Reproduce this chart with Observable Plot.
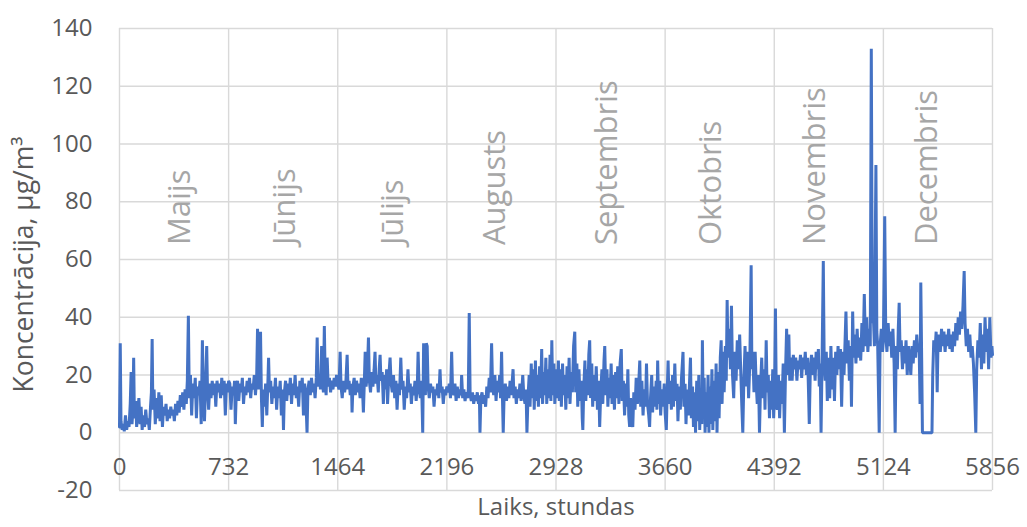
<!DOCTYPE html>
<html>
<head>
<meta charset="utf-8">
<script src="https://cdn.jsdelivr.net/npm/d3@7"></script>
<script src="https://cdn.jsdelivr.net/npm/@observablehq/plot@0.6"></script>
<style>
  html, body { margin: 0; padding: 0; background: #fff; }
</style>
</head>
<body>
<div id="chart"></div>
<script>
const xTicks = [0, 732, 1464, 2196, 2928, 3660, 4392, 5124, 5856];
const yTicks = [-20, 0, 20, 40, 60, 80, 100, 120, 140];
const monthNames = ["Maijs", "Jūnijs", "Jūlijs", "Augusts", "Septembris", "Oktobris", "Novembris", "Decembris"];
const monthHours = [408, 1112, 1835, 2518, 3268, 3971, 4668, 5418];
const yTitle = "Koncentrācija, µg/m³";
const xTitle = "Laiks, stundas";

// [hour, concentration]
const series = [
[0,2],[5,31],[10,4],[18,1],[25,3],[32,0.5],[40,6],[48,1],[56,4],[64,2],[72,10],[78,21],[84,3],[90,8],[95,26],[100,5],[108,11],[115,2],[122,7],[130,12],[138,3],[145,9],[152,1],[160,6],[168,2],[176,8],[184,3],[192,5],[200,1],[208,9],[214,14],[219,32.5],[224,8],[232,15],[240,3],[248,12],[256,5],[264,14],[272,4],[280,13],[288,2],[296,9],[304,6],[312,10],[320,4],[328,8],[336,5],[344,9],[352,6],[360,8],[368,4],[376,10],[384,6],[392,11],[400,7],[408,13],[416,9],[424,14],[432,8],[440,15],[448,10],[455,18],[462,40.5],[468,12],[476,20],[484,6],[492,17],[500,12],[508,19],[516,5],[524,16],[532,13],[540,18],[548,3],[556,32],[562,15],[570,4],[578,17],[585,30],[590,16],[598,8],[606,17],[614,12],[622,18],[630,13],[638,17],[646,9],[654,18],[662,14],[670,17],[678,12],[686,19],[694,13],[702,18],[710,6],[718,17],[726,14],[732,18],
[740,17],[748,8],[756,16],[764,13],[772,18],[777,3],[784,15],[792,18],[800,11],[808,17],[816,14],[824,19],[832,10],[840,16],[848,13],[856,18],[864,14],[872,19],[880,12],[888,17],[896,15],[904,20],[912,13],[920,19],[926,36],[932,15],[940,20],[946,35],[952,12],[958,2],[964,15],[972,9],[980,17],[988,6],[994,15],[1000,26],[1006,14],[1014,18],[1022,10],[1030,16],[1038,12],[1046,19],[1054,8],[1062,16],[1070,12],[1078,18],[1086,6],[1094,15],[1100,1],[1106,14],[1114,18],[1122,11],[1130,17],[1138,13],[1146,19],[1154,10],[1162,17],[1170,13],[1178,20],[1186,12],[1194,16],[1202,9],[1210,18],[1218,14],[1226,19],[1234,6],[1242,17],[1250,12],[1258,0],[1264,15],[1272,18],[1280,13],[1288,19],[1296,14],[1304,17],[1312,12],[1320,19],[1326,33],[1332,16],[1340,20],[1348,15],[1356,30],[1362,17],[1368,14],[1374,37],[1380,18],[1386,13],[1393,26],[1400,16],[1408,19],[1416,14],[1424,18],[1432,15],[1440,19],[1448,16],[1456,20],[1464,17],
[1472,15],[1480,28],[1486,16],[1494,12],[1502,18],[1510,14],[1518,17],[1527,27],[1533,15],[1540,18],[1548,13],[1556,17],[1560,7],[1566,16],[1574,19],[1582,13],[1590,18],[1598,14],[1606,17],[1614,12],[1622,19],[1630,15],[1636,7],[1642,17],[1648,28],[1654,16],[1662,20],[1670,33],[1676,18],[1684,14],[1692,21],[1700,16],[1708,22],[1714,28],[1720,17],[1728,20],[1736,14],[1742,22],[1748,27],[1754,18],[1762,21],[1770,10],[1776,20],[1784,15],[1792,22],[1798,10],[1806,19],[1815,26],[1822,17],[1830,14],[1838,20],[1846,12],[1854,18],[1862,8],[1870,17],[1878,13],[1887,26],[1894,15],[1902,18],[1910,8],[1918,16],[1926,12],[1935,22],[1942,14],[1950,17],[1958,10],[1966,16],[1974,13],[1982,18],[1990,11],[1998,17],[2003,28],[2010,15],[2018,12],[2026,18],[2034,0],[2040,31],[2046,17],[2052,13],[2058,31],[2064,30],[2070,16],[2078,12],[2086,17],[2094,14],[2102,16],[2110,9],[2118,15],[2126,13],[2134,17],[2142,12],[2150,22],[2156,14],[2164,16],[2172,10],[2180,15],[2188,13],[2196,16],
[2204,14],[2212,17],[2220,12],[2228,28],[2234,15],[2242,13],[2250,17],[2258,11],[2266,16],[2274,12],[2282,15],[2290,13],[2295,20],[2302,12],[2310,15],[2318,11],[2326,14],[2334,12],[2340,15],[2346,41.5],[2352,13],[2360,11],[2368,14],[2376,10],[2384,13],[2392,11],[2400,14],[2408,10],[2414,13],[2418,0],[2424,12],[2432,14],[2440,10],[2448,13],[2456,9],[2464,16],[2472,12],[2480,19],[2488,14],[2496,31],[2502,17],[2510,13],[2518,20],[2526,11],[2534,18],[2542,14],[2550,20],[2556,12],[2563,28],[2568,14],[2574,0],[2580,13],[2588,17],[2596,11],[2604,16],[2612,12],[2620,18],[2628,13],[2640,22],[2646,12],[2654,16],[2662,10],[2670,15],[2678,12],[2686,17],[2694,11],[2705,20],[2712,13],[2720,10],[2727,15],[2733,0],[2740,12],[2748,20],[2754,9],[2762,24],[2768,12],[2776,22],[2782,8],[2790,25],[2796,11],[2804,20],[2810,9],[2818,23],[2824,12],[2832,29],[2838,10],[2846,21],[2852,13],[2860,26],[2866,10],[2874,22],[2880,12],[2888,27],[2894,11],[2900,32],[2906,13],[2914,24],[2920,10],[2928,22],
[2936,12],[2944,25],[2950,11],[2958,22],[2964,9],[2972,24],[2978,13],[2986,20],[2994,8],[3002,23],[3008,12],[3016,26],[3022,10],[3030,21],[3038,14],[3046,30],[3054,35],[3060,14],[3068,24],[3074,9],[3082,22],[3090,11],[3098,18],[3104,5],[3108,1],[3114,15],[3122,25],[3128,11],[3136,22],[3142,13],[3148,27],[3154,32],[3160,12],[3168,24],[3174,9],[3182,20],[3190,11],[3198,23],[3206,8],[3214,18],[3221,2],[3228,14],[3236,22],[3242,10],[3250,25],[3255,30],[3262,13],[3270,22],[3276,9],[3284,19],[3290,12],[3298,24],[3304,10],[3312,20],[3320,8],[3328,21],[3335,12],[3342,23],[3350,10],[3358,24],[3366,29],[3372,11],[3380,18],[3388,6],[3396,17],[3404,9],[3410,22],[3416,6],[3422,2],[3428,12],[3436,4],[3443,2],[3450,14],[3458,8],[3466,19],[3474,10],[3482,16],[3490,25],[3496,9],[3504,18],[3512,6],[3520,15],[3528,9],[3535,24],[3542,10],[3550,6],[3556,2],[3562,12],[3570,20],[3576,7],[3584,16],[3592,9],[3600,18],[3605,8],[3610,25],[3616,10],[3624,18],[3630,6],[3638,15],[3646,9],[3654,17],[3660,7],
[3668,1],[3674,14],[3680,25],[3686,10],[3694,18],[3702,8],[3710,20],[3716,9],[3725,24],[3732,11],[3740,17],[3746,4],[3754,16],[3762,8],[3770,19],[3780,28],[3786,9],[3794,17],[3800,3],[3808,15],[3816,6],[3824,18],[3830,26],[3836,5],[3844,16],[3850,2],[3858,14],[3864,0],[3872,18],[3878,4],[3886,20],[3892,1],[3900,15],[3906,3],[3910,32],[3916,6],[3922,19],[3928,0],[3934,14],[3940,2],[3948,20],[3954,0],[3960,16],[3966,3],[3974,22],[3980,1],[3988,18],[3994,4],[4002,24],[4008,0],[4016,21],[4022,5],[4030,26],[4036,32],[4042,10],[4050,28],[4056,14],[4064,30],[4070,18],[4076,46],[4082,26],[4090,36],[4098,22],[4105,44],[4112,20],[4120,12],[4128,28],[4136,18],[4144,32],[4152,22],[4160,34],[4168,20],[4174,10],[4181,0],[4188,18],[4196,30],[4204,16],[4212,28],[4220,12],[4228,24],[4237,58],[4242,22],[4248,28],[4256,14],[4264,28],[4270,18],[4278,10],[4286,20],[4293,0],[4300,16],[4308,26],[4316,12],[4324,22],[4330,8],[4338,32],[4344,14],[4352,20],[4360,5],[4368,18],[4374,8],[4382,22],[4388,5],[4394,14],[4400,43],[4406,10],
[4412,8],[4420,20],[4428,5],[4436,18],[4444,10],[4452,24],[4460,0],[4468,22],[4475,36],[4482,20],[4490,34],[4496,18],[4504,26],[4512,18],[4520,27],[4528,22],[4536,26],[4544,18],[4552,25],[4560,22],[4568,27],[4576,19],[4584,26],[4592,22],[4600,28],[4608,20],[4616,26],[4622,14],[4627,3],[4634,22],[4642,27],[4650,20],[4658,26],[4666,18],[4673,28],[4680,22],[4688,29],[4694,16],[4700,24],[4706,0],[4712,22],[4721,59.5],[4727,24],[4734,18],[4741,28],[4748,11],[4756,26],[4764,12],[4772,30],[4780,15],[4788,26],[4796,11],[4804,28],[4812,20],[4820,30],[4828,22],[4836,29],[4844,9],[4852,28],[4860,20],[4866,30],[4873,42],[4880,24],[4888,32],[4896,18],[4904,30],[4910,9],[4918,42],[4924,26],[4932,34],[4940,24],[4948,36],[4956,26],[4964,33],[4972,25],[4980,38],[4988,28],[4996,48],[5004,30],[5012,40],[5020,28],[5028,36],[5036,30],[5043,133],[5050,38],[5057,40],[5064,30],[5074,92.7],[5080,35],[5086,30],[5092,12],[5096,0],[5102,30],[5110,36],[5118,28],[5124,32],
[5133,75],[5140,34],[5148,28],[5156,38],[5164,30],[5172,35],[5180,26],[5188,36],[5196,24],[5203,0],[5210,30],[5218,22],[5224,36],[5230,45],[5236,28],[5244,32],[5252,22],[5260,30],[5268,24],[5276,32],[5284,20],[5292,30],[5300,26],[5308,20],[5316,30],[5324,24],[5332,32],[5340,26],[5348,34],[5356,28],[5364,30],[5370,10],[5375,52],[5381,25],[5386,0],[5400,0],[5420,0],[5440,0],[5450,0],[5455,20],[5462,32],[5470,28],[5478,35],[5485,14],[5490,30],[5498,34],[5506,28],[5514,36],[5522,30],[5530,35],[5538,28],[5546,34],[5554,30],[5562,36],[5570,29],[5578,34],[5586,28],[5594,35],[5602,30],[5610,38],[5618,32],[5626,40],[5634,34],[5642,42],[5650,36],[5658,44],[5666,56],[5672,38],[5680,30],[5688,36],[5696,28],[5704,34],[5712,26],[5720,30],[5728,24],[5736,14],[5744,0],[5750,22],[5758,32],[5766,26],[5774,38],[5782,22],[5790,34],[5798,24],[5806,40],[5814,28],[5822,36],[5830,22],[5838,40],[5846,26],[5852,30],[5856,27]
];

const months = monthNames.map((name, i) => ({name, hour: monthHours[i]}));
const font = "'Open Sans', 'Liberation Sans', sans-serif";
const gridColor = "#d9d9d9";
const textColor = "#595959";

const chart = Plot.plot({
  width: 1027,
  height: 527,
  marginLeft: 119,
  marginRight: 35,
  marginTop: 28,
  marginBottom: 37,
  style: {fontFamily: font, background: "#fff", overflow: "visible"},
  x: {domain: [0, 5856], axis: null},
  y: {domain: [-20, 140]},
  marks: [
    Plot.gridY(yTicks, {stroke: gridColor, strokeOpacity: 1, strokeWidth: 1.4}),
    Plot.gridX(xTicks, {stroke: gridColor, strokeOpacity: 1, strokeWidth: 1.4}),
    Plot.axisY(yTicks, {tickSize: 0, tickPadding: 27, fontSize: 24, fill: textColor, label: null, tickFormat: d => String(d)}),
    Plot.text(xTicks, {x: d => d, y: 0, dy: 35, text: d => String(d), fontSize: 24, fill: textColor}),
    Plot.text(months, {x: "hour", y: 65, text: "name", rotate: -90, textAnchor: "start", fontSize: 31, fill: "#a6a6a6"}),
    Plot.line(series, {x: d => d[0], y: d => d[1], stroke: "#4472c4", strokeWidth: 3, strokeLinejoin: "miter"}),
    Plot.text([yTitle], {frameAnchor: "left", textAnchor: "middle", dx: -95, dy: 5, rotate: -90, text: d => d, fontSize: 26.5, fill: textColor}),
    Plot.text([xTitle], {frameAnchor: "bottom", textAnchor: "middle", dy: 24, text: d => d, fontSize: 24, fill: textColor})
  ]
});
document.getElementById("chart").appendChild(chart);
</script>
</body>
</html>
